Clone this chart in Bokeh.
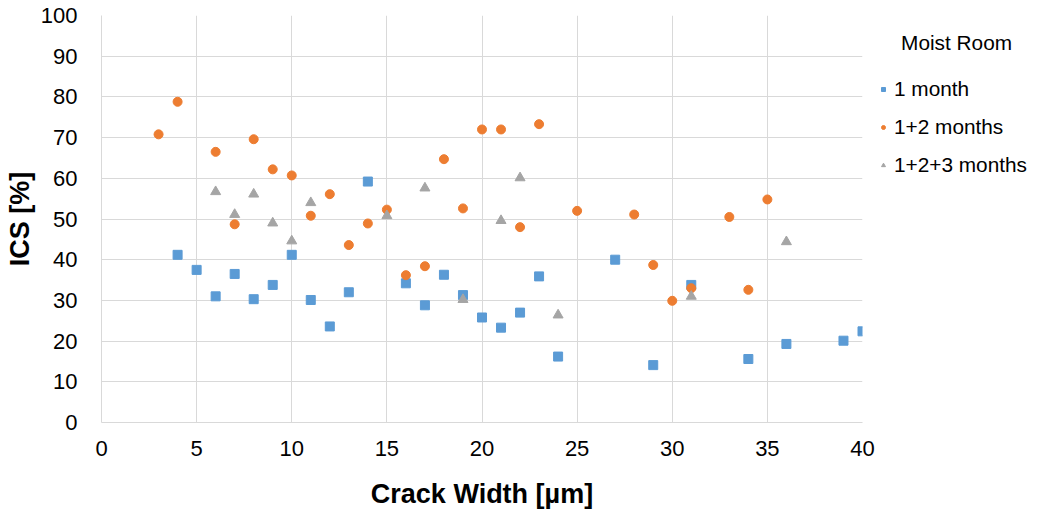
from bokeh.plotting import figure
from bokeh.models import Legend, LegendItem, FixedTicker
from bokeh.embed import file_html
from bokeh.resources import INLINE

x1 = [4, 5, 6, 7, 8, 9, 10, 11, 12, 13, 14, 16, 17, 18, 19, 20, 21, 22, 23, 24, 27, 29, 31, 34, 36, 39, 40]
y1 = [41.2, 37.5, 31.0, 36.5, 30.3, 33.8, 41.2, 30.1, 23.6, 32.0, 59.2, 34.2, 28.8, 36.3, 31.3, 25.8, 23.3, 27.0, 35.9, 16.2, 40.0, 14.1, 33.8, 15.6, 19.3, 20.1, 22.4]

x2 = [3, 4, 6, 7, 8, 9, 10, 11, 12, 13, 14, 15, 16, 17, 18, 19, 20, 21, 22, 23, 25, 28, 29, 30, 31, 33, 34, 35]
y2 = [70.8, 78.8, 66.5, 48.7, 69.6, 62.2, 60.7, 50.8, 56.1, 43.6, 48.9, 52.3, 36.2, 38.4, 64.7, 52.6, 72.0, 72.0, 48.0, 73.3, 52.0, 51.1, 38.7, 29.9, 33.0, 50.5, 32.6, 54.8]

x3 = [6, 7, 8, 9, 10, 11, 15, 17, 19, 21, 22, 24, 31, 36]
y3 = [56.7, 51.1, 56.1, 49.0, 44.6, 54.0, 50.8, 57.6, 30.2, 49.6, 60.1, 26.4, 31.0, 44.4]

series_names = ["1 month", "1+2 months", "1+2+3 months"]
legend_title = "Moist Room"
x_ticks = [0, 5, 10, 15, 20, 25, 30, 35, 40]
y_ticks = [0, 10, 20, 30, 40, 50, 60, 70, 80, 90, 100]

FONT = "Liberation Sans"

p = figure(frame_width=761, frame_height=407,
           min_border_left=101, min_border_right=0, min_border_top=15, min_border_bottom=95,
           x_range=(0, 40), y_range=(0, 100),
           output_backend="svg", toolbar_location=None)
p.outline_line_color = None
p.background_fill_color = "white"

for ax in (p.xaxis[0], p.yaxis[0]):
    ax.major_tick_line_color = None
    ax.minor_tick_line_color = None
    ax.axis_line_color = "#d9d9d9"
    ax.major_label_text_font = FONT
    ax.major_label_text_font_size = "22px"
    ax.major_label_text_color = "#000000"
    ax.axis_label_text_font = FONT
    ax.axis_label_text_font_size = "27px"
    ax.axis_label_text_font_style = "bold"
    ax.axis_label_text_color = "#000000"

p.xaxis.ticker = FixedTicker(ticks=x_ticks)
p.yaxis.ticker = FixedTicker(ticks=y_ticks)
p.xaxis.axis_label = "Crack Width [µm]"
p.yaxis.axis_label = "ICS [%]"
p.xaxis.major_label_standoff = 12
p.yaxis.major_label_standoff = 18
p.xaxis.axis_label_standoff = 20
p.yaxis.axis_label_standoff = 3

p.xgrid.ticker = FixedTicker(ticks=x_ticks)
p.ygrid.ticker = FixedTicker(ticks=y_ticks)
p.grid.grid_line_color = "#d9d9d9"
p.grid.grid_line_width = 1

r1 = p.scatter(x1, y1, marker="square", size=9, color="#5B9BD5")
r2 = p.scatter(x2, y2, marker="circle", size=9, color="#ED7D31")
r3 = p.scatter(x3, y3, marker="triangle", size=10, color="#A5A5A5")

legend = Legend(items=[LegendItem(label=series_names[0], renderers=[r1]),
                       LegendItem(label=series_names[1], renderers=[r2]),
                       LegendItem(label=series_names[2], renderers=[r3])],
                location="top_left", orientation="vertical",
                title="\u00a0\u00a0\u00a0\u00a0" + legend_title,
                title_text_font=FONT, title_text_font_size="20.8px",
                title_text_font_style="normal", title_text_color="#000000",
                title_standoff=22,
                label_text_font=FONT, label_text_font_size="20.8px",
                label_text_color="#000000",
                glyph_width=10, glyph_height=10, spacing=14, padding=0, margin=16,
                label_standoff=6, border_line_color=None,
                background_fill_alpha=0)
p.add_layout(legend, "right")

open("out.html", "w").write(file_html(p, INLINE))
